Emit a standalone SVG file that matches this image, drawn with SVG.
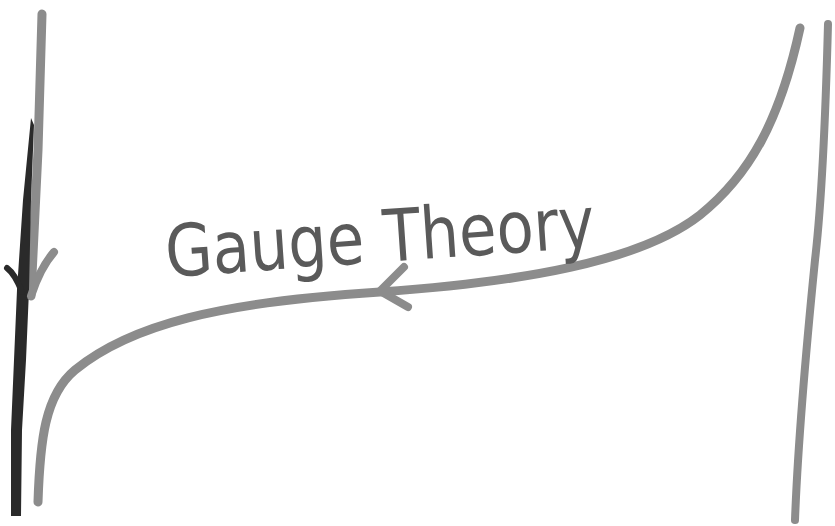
<svg xmlns="http://www.w3.org/2000/svg" width="835" height="526" viewBox="0 0 835 526">
<style>
.g{fill:none;stroke:#8c8c8c;stroke-width:9;stroke-linecap:round;stroke-linejoin:round}
.k{fill:none;stroke:#2a2a2a;stroke-width:8;stroke-linecap:round;stroke-linejoin:round}
.t{font-family:"Comic Sans MS","DejaVu Sans",sans-serif;fill:#5a5a5a;font-size:72px}
</style>
<rect width="835" height="526" fill="#fff"/>
<g id="lines">
<path class="g" d="M42 14 L38 150 L31 296"/>
<path d="M31 118 L34 125 L31 200 L29 290 L26 360 L22 430 L21 516 L11 516 L11 430 L14 360 L17 290 L23 200 Z" fill="#2a2a2a"/>
<path class="k" d="M7 268 Q15 274 22 292" style="stroke-width:6"/>
<path class="g" d="M54 252 Q40 268 31 296" style="stroke-width:8"/>
<path class="g" d="M38 502 C40 440 45 395 75 370 C130 325 220 302 380 292 C520 282 640 262 700 215 C750 175 780 120 800 28"/>
<path class="g" d="M404 267 L380 291 L408 307" style="stroke-width:8"/>
<path class="g" d="M828 24 C826 100 822 200 815 260 C805 360 798 440 795 520" style="stroke-width:8"/>
</g>
<g id="label">
<text class="t" x="165" y="262" textLength="430" lengthAdjust="spacingAndGlyphs" transform="rotate(-4 380 240)">Gauge Theory</text>
</g>
</svg>
